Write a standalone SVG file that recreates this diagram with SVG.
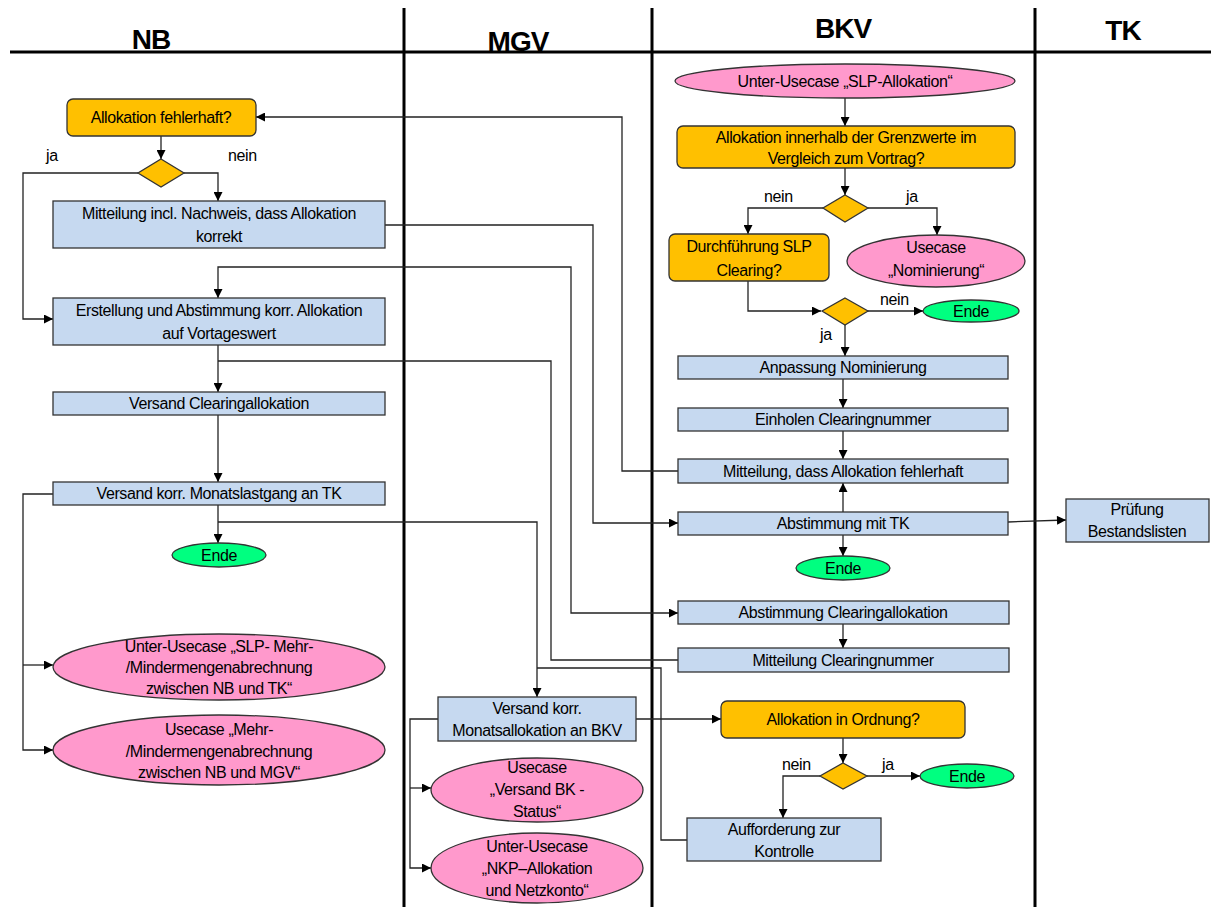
<svg xmlns="http://www.w3.org/2000/svg" width="1211" height="907" viewBox="0 0 1211 907">
<style>
text{font-family:"Liberation Sans",Arial,sans-serif;font-size:16px;letter-spacing:-0.4px;fill:#000;text-anchor:middle}
.h{font-size:28px;font-weight:bold;letter-spacing:-1px}
.lane{stroke:#000;stroke-width:3;fill:none}
.box{fill:#C6D9F0;stroke:#333;stroke-width:1.3}
.dec{fill:#FFC000;stroke:#333;stroke-width:1.3}
.uc{fill:#FF99CC;stroke:#333;stroke-width:1.3}
.end{fill:#00FF80;stroke:#333;stroke-width:1.3}
.c path{fill:none;stroke:#222;stroke-width:1.3}
.lbl{text-anchor:start}
</style>
<defs>
<marker id="a" viewBox="0 0 10 10" refX="10" refY="5" markerWidth="10" markerHeight="9" orient="auto-start-reverse" markerUnits="userSpaceOnUse"><path d="M0,0 L10,5 L0,10 z" fill="#000"/></marker>
</defs>
<rect width="1211" height="907" fill="#fff"/>
<g id="lanes">
<path class="lane" d="M10,52 H1211 M404,8 V907 M652,8 V907 M1035,8 V907"/>
<text class="h" x="151" y="49">NB</text>
<text class="h" x="518" y="51">MGV</text>
<text class="h" x="843" y="38">BKV</text>
<text class="h" x="1123" y="40">TK</text>
</g>
<g class="c" id="connectors">
<path d="M161,136 V159" marker-end="url(#a)"/>
<path d="M138,173 H23 V319 H53" marker-end="url(#a)"/>
<path d="M184,173 H218 V201" marker-end="url(#a)"/>
<path d="M385,225 H593 V523 H678" marker-end="url(#a)"/>
<path d="M218,298 V267 H571 V613 H678" marker-start="url(#a)" marker-end="url(#a)"/>
<path d="M218,345 V392" marker-end="url(#a)"/>
<path d="M678,660 H551 V361 H218"/>
<path d="M218,415 V482" marker-end="url(#a)"/>
<path d="M218,505 V543" marker-end="url(#a)"/>
<path d="M218,522 H537 V697" marker-end="url(#a)"/>
<path d="M687,840 H661 V668 H537"/>
<path d="M53,494 H23 V750 H53" marker-end="url(#a)"/>
<path d="M23,665 H53" marker-end="url(#a)"/>
<path d="M678,471 H622 V117 H256" marker-end="url(#a)"/>
<path d="M845,98 V126" marker-end="url(#a)"/>
<path d="M845,168 V195" marker-end="url(#a)"/>
<path d="M823,208 H748 V234" marker-end="url(#a)"/>
<path d="M868,208 H937 V235" marker-end="url(#a)"/>
<path d="M748,281 V311 H821" marker-end="url(#a)"/>
<path d="M867,311 H923" marker-end="url(#a)"/>
<path d="M845,325 V356" marker-end="url(#a)"/>
<path d="M843,379 V408" marker-end="url(#a)"/>
<path d="M843,431 V459" marker-end="url(#a)"/>
<path d="M843,512 V483" marker-end="url(#a)"/>
<path d="M1008,522 L1066,520" marker-end="url(#a)"/>
<path d="M843,535 V556" marker-end="url(#a)"/>
<path d="M843,624 V648" marker-end="url(#a)"/>
<path d="M636,719 H721" marker-end="url(#a)"/>
<path d="M843,738 V763" marker-end="url(#a)"/>
<path d="M867,776 H920" marker-end="url(#a)"/>
<path d="M820,776 H783 V818" marker-end="url(#a)"/>
<path d="M438,719 H410 V868 H431" marker-end="url(#a)"/>
<path d="M410,788 H431" marker-end="url(#a)"/>
</g>
<g id="labels">
<text class="lbl" x="46" y="161">ja</text>
<text class="lbl" x="228" y="161">nein</text>
<text class="lbl" x="764" y="202">nein</text>
<text class="lbl" x="906" y="202">ja</text>
<text class="lbl" x="880" y="305">nein</text>
<text class="lbl" x="820" y="340">ja</text>
<text class="lbl" x="782" y="770">nein</text>
<text class="lbl" x="882" y="770">ja</text>
</g>
<g id="n_fehlerhaft"><rect class="dec" x="67" y="99" width="189" height="37" rx="6"/><text x="161" y="123">Allokation fehlerhaft?</text></g>
<g id="n_d1"><polygon class="dec" points="161,159 184,173 161,187 138,173"/></g>
<g id="n_mitteilung_incl"><rect class="box" x="53" y="201" width="332" height="47"/><text x="219" y="219">Mitteilung incl. Nachweis, dass Allokation</text><text x="219" y="242">korrekt</text></g>
<g id="n_erstellung"><rect class="box" x="53" y="298" width="332" height="47"/><text x="219" y="316">Erstellung und Abstimmung korr. Allokation</text><text x="219" y="339">auf Vortageswert</text></g>
<g id="n_versand_clearing"><rect class="box" x="53" y="392" width="332" height="23"/><text x="219" y="409">Versand Clearingallokation</text></g>
<g id="n_versand_lastgang"><rect class="box" x="53" y="482" width="332" height="23"/><text x="219" y="499">Versand korr. Monatslastgang an TK</text></g>
<g id="n_ende_nb"><ellipse class="end" cx="219" cy="555" rx="47" ry="12"/><text x="219" y="561">Ende</text></g>
<g id="n_uc_slp_mehr"><ellipse class="uc" cx="219" cy="667" rx="166" ry="33"/><text x="219" y="652">Unter-Usecase „SLP- Mehr-</text><text x="219" y="673">/Mindermengenabrechnung</text><text x="219" y="694">zwischen NB und TK“</text></g>
<g id="n_uc_mehr"><ellipse class="uc" cx="219" cy="750" rx="166" ry="35"/><text x="219" y="735">Usecase „Mehr-</text><text x="219" y="757">/Mindermengenabrechnung</text><text x="219" y="778">zwischen NB und MGV“</text></g>
<g id="n_versand_monatsalloc"><rect class="box" x="438" y="697" width="198" height="44"/><text x="537" y="714">Versand korr.</text><text x="537" y="736">Monatsallokation an BKV</text></g>
<g id="n_uc_bkstatus"><ellipse class="uc" cx="537" cy="790" rx="106" ry="32"/><text x="537" y="773">Usecase</text><text x="537" y="795">„Versand BK -</text><text x="537" y="817">Status“</text></g>
<g id="n_uc_nkp"><ellipse class="uc" cx="537" cy="868" rx="106" ry="35"/><text x="537" y="852">Unter-Usecase</text><text x="537" y="874">„NKP–Allokation</text><text x="537" y="896">und Netzkonto“</text></g>
<g id="n_uc_slp_alloc"><ellipse class="uc" cx="845" cy="81" rx="170" ry="17"/><text x="845" y="87">Unter-Usecase „SLP-Allokation“</text></g>
<g id="n_grenzwerte"><rect class="dec" x="677" y="126" width="338" height="42" rx="6"/><text x="846" y="143">Allokation innerhalb der Grenzwerte im</text><text x="846" y="164">Vergleich zum Vortrag?</text></g>
<g id="n_d2"><polygon class="dec" points="845,195 868,208 845,222 823,208"/></g>
<g id="n_durchfuehrung"><rect class="dec" x="669" y="234" width="160" height="47" rx="6"/><text x="749" y="252">Durchführung SLP</text><text x="749" y="276">Clearing?</text></g>
<g id="n_uc_nominierung"><ellipse class="uc" cx="936" cy="261" rx="89" ry="26"/><text x="936" y="253">Usecase</text><text x="936" y="276">„Nominierung“</text></g>
<g id="n_d3"><polygon class="dec" points="845,298 868,311 845,325 822,311"/></g>
<g id="n_ende_1"><ellipse class="end" cx="971" cy="311" rx="48" ry="11"/><text x="971" y="317">Ende</text></g>
<g id="n_anpassung"><rect class="box" x="678" y="356" width="330" height="23"/><text x="843" y="373">Anpassung Nominierung</text></g>
<g id="n_einholen"><rect class="box" x="678" y="408" width="330" height="23"/><text x="843" y="425">Einholen Clearingnummer</text></g>
<g id="n_mitteilung_fehler"><rect class="box" x="678" y="459" width="330" height="24"/><text x="843" y="477">Mitteilung, dass Allokation fehlerhaft</text></g>
<g id="n_abstimmung_tk"><rect class="box" x="678" y="512" width="330" height="23"/><text x="843" y="529">Abstimmung mit TK</text></g>
<g id="n_ende_2"><ellipse class="end" cx="843" cy="568" rx="47" ry="12"/><text x="843" y="574">Ende</text></g>
<g id="n_pruefung"><rect class="box" x="1066" y="499" width="143" height="43"/><text x="1137" y="515">Prüfung</text><text x="1137" y="537">Bestandslisten</text></g>
<g id="n_abst_clearing"><rect class="box" x="678" y="601" width="331" height="23"/><text x="843" y="618">Abstimmung Clearingallokation</text></g>
<g id="n_mitteilung_clearing"><rect class="box" x="678" y="648" width="331" height="24"/><text x="843" y="666">Mitteilung Clearingnummer</text></g>
<g id="n_in_ordnung"><rect class="dec" x="721" y="701" width="244" height="37" rx="6"/><text x="843" y="725">Allokation in Ordnung?</text></g>
<g id="n_d4"><polygon class="dec" points="843,763 867,776 843,789 820,776"/></g>
<g id="n_ende_3"><ellipse class="end" cx="967" cy="776" rx="47" ry="12"/><text x="967" y="782">Ende</text></g>
<g id="n_aufforderung"><rect class="box" x="687" y="818" width="194" height="43"/><text x="784" y="835">Aufforderung zur</text><text x="784" y="857">Kontrolle</text></g>
</svg>
